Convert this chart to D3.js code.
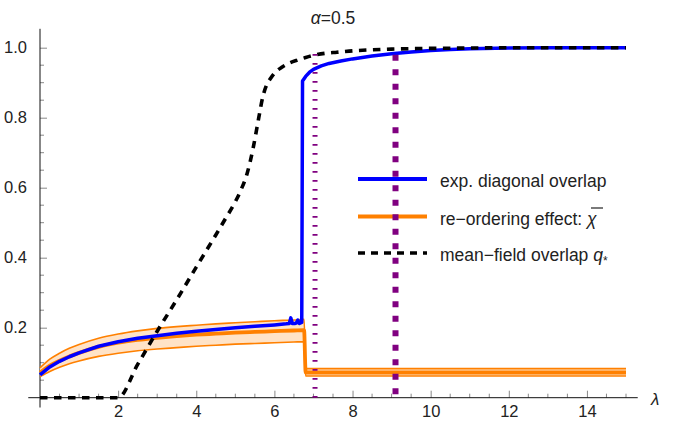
<!DOCTYPE html>
<html>
<head>
<meta charset="utf-8">
<script src="https://cdn.jsdelivr.net/npm/d3@7"></script>
<style>
  body { margin: 0; background: #ffffff; }
  text { font-family: "Liberation Sans", Arial, sans-serif; fill: #222; }
</style>
</head>
<body>
<div id="chart"></div>
<script>
// --- data ---
var blueLam = [0, 0.25, 0.5, 0.75, 1, 1.5, 2, 2.5, 3, 3.5, 4, 4.5, 5, 5.5, 6, 6.3, 6.38, 6.42, 6.46, 6.52, 6.56, 6.6, 6.64, 6.7, 6.72, 6.8, 6.9, 7, 7.2, 7.4, 7.7, 8, 8.5, 9, 9.5, 10, 10.5, 11, 12, 13, 14, 15]
var blueVal = [0.065, 0.088, 0.104, 0.117, 0.128, 0.147, 0.16, 0.17, 0.177, 0.184, 0.19, 0.195, 0.2, 0.204, 0.208, 0.211, 0.212, 0.228, 0.212, 0.212, 0.213, 0.222, 0.212, 0.215, 0.905, 0.918, 0.93, 0.938, 0.948, 0.955, 0.962, 0.968, 0.976, 0.983, 0.988, 0.992, 0.995, 0.997, 0.999, 1.0, 1.0, 1.0]

var chiLam = [0, 0.25, 0.5, 0.75, 1, 1.5, 2, 2.5, 3, 3.5, 4, 4.5, 5, 5.5, 6, 6.5, 6.76, 6.8, 15]
var chiMid = [0.072, 0.092, 0.106, 0.118, 0.128, 0.145, 0.157, 0.165, 0.171, 0.176, 0.18, 0.183, 0.186, 0.188, 0.19, 0.192, 0.193, 0.072, 0.072]
var chiHi = [0.085, 0.11, 0.127, 0.141, 0.152, 0.17, 0.182, 0.191, 0.198, 0.203, 0.207, 0.211, 0.214, 0.217, 0.22, 0.222, 0.224, 0.083, 0.083]
var chiLo = [0.06, 0.075, 0.087, 0.097, 0.105, 0.118, 0.127, 0.134, 0.139, 0.143, 0.147, 0.15, 0.153, 0.155, 0.157, 0.159, 0.16, 0.062, 0.062]

var qLam = [0, 2, 2.5, 3, 3.5, 4, 4.5, 4.75, 5, 5.15, 5.3, 5.45, 5.6, 5.7, 5.8, 5.9, 6, 6.2, 6.4, 6.6, 6.8, 7, 7.3, 7.6, 8, 8.5, 9, 10, 11, 12, 15]
var qVal = [0, 0, 0.095, 0.19, 0.28, 0.373, 0.465, 0.512, 0.56, 0.595, 0.64, 0.71, 0.8, 0.858, 0.893, 0.912, 0.927, 0.945, 0.957, 0.965, 0.972, 0.978, 0.984, 0.987, 0.991, 0.994, 0.996, 0.998, 0.999, 1.0, 1.0]

var markerLam = [7.04, 9.1]   // thin and thick purple dotted lines
var xTicks = [2, 4, 6, 8, 10, 12, 14]
var yTicks = [0.2, 0.4, 0.6, 0.8, 1.0]
var legendLabels = ['exp. diagonal overlap', 're\u2212ordering effect: ', 'mean\u2212field overlap ']

var W = 673, H = 422
var svg = d3.select('#chart').append('svg').attr('width', W).attr('height', H)

var x = d3.scaleLinear().domain([0, 15]).range([40, 626])
var y = d3.scaleLinear().domain([0, 1]).range([397.7, 47.7])

function pts(lams, vals){
    return lams.map(function(l, i){ return [l, vals[i]] })
}

var line = d3.line()
    .x(function(d){ return x(d[0]) })
    .y(function(d){ return y(d[1]) })
    .curve(d3.curveMonotoneX)

// axes
var minorX = d3.range(0.5, 15.01, 0.5).filter(function(v){ return xTicks.indexOf(v) < 0 })
var minorY = d3.range(0.05, 1.001, 0.05).filter(function(v){
    return !yTicks.some(function(t){ return Math.abs(t - v) < 1e-6 })
})

var xAxis = svg.append('g').attr('transform', 'translate(0,' + y(0) + ')')
xAxis.call(d3.axisBottom(x).tickValues(xTicks).tickSize(-7).tickSizeOuter(0).tickPadding(8)
    .tickFormat(d3.format('d')))
xAxis.select('.domain').remove()
xAxis.selectAll('.tick line').attr('stroke', '#888').attr('stroke-width', 1)
xAxis.selectAll('.tick text').attr('font-size', 16.5).attr('fill', '#222')
    .attr('font-family', '"Liberation Sans", Arial, sans-serif')
xAxis.selectAll('.minor').data(minorX).enter().append('line')
    .attr('x1', function(d){ return x(d) }).attr('x2', function(d){ return x(d) })
    .attr('y1', 0).attr('y2', -4).attr('stroke', '#888')

var yAxis = svg.append('g').attr('transform', 'translate(' + x(0) + ',0)')
yAxis.call(d3.axisLeft(y).tickValues(yTicks).tickSize(-7).tickSizeOuter(0).tickPadding(13)
    .tickFormat(d3.format('.1f')))
yAxis.select('.domain').remove()
yAxis.selectAll('.tick line').attr('stroke', '#888').attr('stroke-width', 1)
yAxis.selectAll('.tick text').attr('font-size', 16.5).attr('fill', '#222')
    .attr('font-family', '"Liberation Sans", Arial, sans-serif')
yAxis.selectAll('.minor').data(minorY).enter().append('line')
    .attr('y1', function(d){ return y(d) }).attr('y2', function(d){ return y(d) })
    .attr('x1', 0).attr('x2', 4).attr('stroke', '#888')

svg.append('line')
    .attr('x1', x(-0.3)).attr('x2', x(15.3))
    .attr('y1', y(0)).attr('y2', y(0))
    .attr('stroke', '#111').attr('stroke-width', 1)
svg.append('line')
    .attr('x1', x(0)).attr('x2', x(0))
    .attr('y1', y(-0.028)).attr('y2', y(1.054))
    .attr('stroke', '#111').attr('stroke-width', 1)

svg.append('text')
    .attr('x', 651).attr('y', 405)
    .attr('font-size', 17).attr('font-style', 'italic')
    .text('\u03bb')

// title
var title = svg.append('text').attr('x', 333).attr('y', 24).attr('text-anchor', 'middle').attr('font-size', 17.5)
title.append('tspan').attr('font-style', 'italic').text('\u03b1')
title.append('tspan').text('=0.5')

// re-ordering band
var band = d3.area()
    .x(function(d){ return x(d[0]) })
    .y0(function(d){ return y(d[1]) })
    .y1(function(d){ return y(d[2]) })
    .curve(d3.curveMonotoneX)

svg.append('path')
    .datum(chiLam.map(function(l, i){ return [l, chiLo[i], chiHi[i]] }))
    .attr('d', band)
    .attr('fill', '#ffe3c7')

svg.append('path').datum(pts(chiLam, chiHi)).attr('d', line)
    .attr('fill', 'none').attr('stroke', '#ff8000').attr('stroke-width', 1.6)
svg.append('path').datum(pts(chiLam, chiLo)).attr('d', line)
    .attr('fill', 'none').attr('stroke', '#ff8000').attr('stroke-width', 1.6)
svg.append('path').datum(pts(chiLam, chiMid)).attr('d', line)
    .attr('fill', 'none').attr('stroke', '#ff8000').attr('stroke-width', 3.8)

// experiment
svg.append('path').datum(pts(blueLam, blueVal)).attr('d', d3.line()
        .x(function(d){ return x(d[0]) })
        .y(function(d){ return y(d[1]) }))
    .attr('fill', 'none').attr('stroke', '#0000ff').attr('stroke-width', 3.5)
    .attr('stroke-linejoin', 'round')

// mean-field
svg.append('path').datum(pts(qLam, qVal)).attr('d', line)
    .attr('fill', 'none').attr('stroke', '#000').attr('stroke-width', 3.6)
    .attr('stroke-dasharray', '7.5,6.5')

// legend
var legendY = [179, 216.5, 253]
var legendStyle = [
    {color: '#0000ff', dash: null, w: 3.8},
    {color: '#ff8000', dash: null, w: 3.8},
    {color: '#000', dash: '7,6', w: 3.6}
]
legendY.forEach(function(ly, i){
    svg.append('line')
        .attr('x1', 358).attr('x2', 427).attr('y1', ly).attr('y2', ly)
        .attr('stroke', legendStyle[i].color).attr('stroke-width', legendStyle[i].w)
        .attr('stroke-dasharray', legendStyle[i].dash)
    var t = svg.append('text').attr('x', 440).attr('y', ly + 8).attr('font-size', 17.5)
    t.append('tspan').text(legendLabels[i])
    if(i === 1){
        t.append('tspan').attr('font-style', 'italic').text('\u03c7')
        svg.append('line')
            .attr('x1', 591).attr('x2', 603).attr('y1', ly - 8.5).attr('y2', ly - 8.5)
            .attr('stroke', '#222').attr('stroke-width', 1.2)
    }
    if(i === 2){
        t.append('tspan').attr('font-style', 'italic').text('q')
        t.append('tspan').attr('font-size', 12).attr('dy', 4).text('*')
    }
})

// purple markers on top
svg.append('line')
    .attr('x1', x(markerLam[0])).attr('x2', x(markerLam[0]))
    .attr('y1', y(0)).attr('y2', y(1))
    .attr('stroke', '#800080').attr('stroke-width', 5)
    .attr('stroke-dasharray', '1.8,7.2')
svg.append('line')
    .attr('x1', x(markerLam[1])).attr('x2', x(markerLam[1]))
    .attr('y1', y(0.01)).attr('y2', y(1))
    .attr('stroke', '#800080').attr('stroke-width', 6)
    .attr('stroke-dasharray', '6,8.5')
</script>
</body>
</html>
